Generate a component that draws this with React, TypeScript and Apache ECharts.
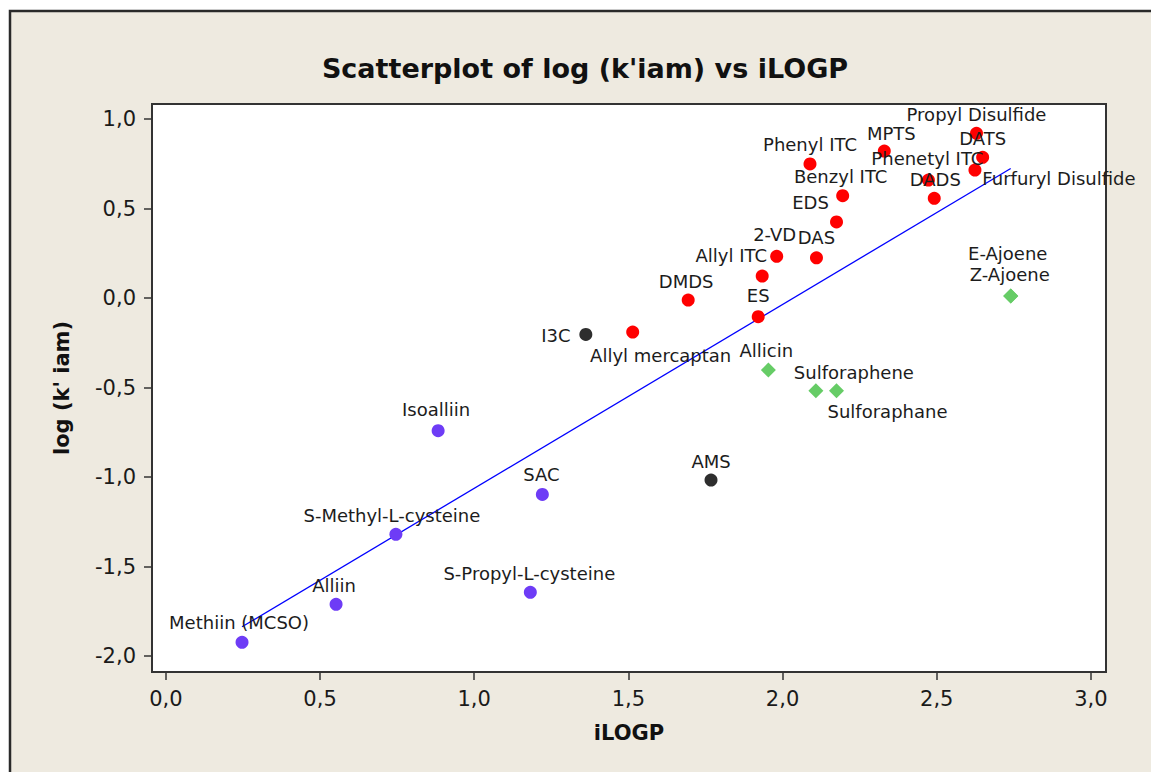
import React, { useEffect, useRef } from "react";
import * as echarts from "echarts";

// ---- data ----
const redNames = ["Propyl Disulfide", "DATS", "Phenetyl ITC", "DADS", "Furfuryl Disulfide", "MPTS", "Phenyl ITC", "Benzyl ITC", "EDS", "2-VD", "DAS", "Allyl ITC", "DMDS", "ES", "Allyl mercaptan"];
const redX = [2.629, 2.649, 2.473, 2.492, 2.624, 2.33, 2.089, 2.195, 2.175, 1.981, 2.11, 1.934, 1.694, 1.921, 1.514];
const redY = [0.92, 0.786, 0.659, 0.557, 0.715, 0.821, 0.749, 0.572, 0.425, 0.233, 0.225, 0.123, -0.011, -0.104, -0.19];

const blackNames = ["I3C", "AMS"];
const blackX = [1.362, 1.768];
const blackY = [-0.203, -1.017];

const greenNames = ["Allicin", "Sulforaphene", "Sulforaphane", "E-Ajoene", "Z-Ajoene"];
const greenX = [1.954, 2.108, 2.175, 2.74, 2.74];
const greenY = [-0.402, -0.518, -0.518, 0.011, 0.011];

const purpleNames = ["Methiin (MCSO)", "Alliin", "S-Methyl-L-cysteine", "Isoalliin", "SAC", "S-Propyl-L-cysteine"];
const purpleX = [0.247, 0.552, 0.746, 0.883, 1.221, 1.182];
const purpleY = [-1.923, -1.711, -1.32, -0.741, -1.097, -1.644];

// fitted regression line
const fitSlope = 1.027;
const fitIntercept = -2.09;

const xTicks = [0, 0.5, 1, 1.5, 2, 2.5, 3];
const yTicks = [-2, -1.5, -1, -0.5, 0, 0.5, 1];

// ---- label placement (layout only, pixels) ----
const redLabelOffsets = [[0, 0], [0, 0], [-1, -3], [1, 0], [84, 27], [7, 1], [0, -1], [-2, -1], [-26, -1], [-2, -3], [0, -2], [-31, -2], [-2, 0], [0, -3], [28, 42]];
const blackLabelOffsets = [[-30, 20], [0, 0]];
const greenLabelOffsets = [[-2, 0], [38, 1], [51, 40], [-3, -23], [-1, -2]];
const purpleLabelOffsets = [[-3, -1], [-2, 0], [-4, 0], [-2, -3], [-1, -1], [-1, 0]];

const FONT = "'DejaVu Sans', Verdana, sans-serif";
const fmt = (v: number) => v.toFixed(1).replace(".", ",");

function build(names: string[], xs: number[], ys: number[]) {
  return names.map((n, i) => ({ name: n, value: [xs[i], ys[i]] }));
}

function scatter(name: string, color: string, symbol: string, size: number, data: any[], offs: number[][]) {
  return {
    type: "scatter",
    name,
    symbol,
    symbolSize: size,
    itemStyle: { color, opacity: 1 },
    label: {
      show: true,
      position: "top",
      distance: 3,
      formatter: (p: any) => p.name,
      color: "#1c1c1c",
      fontFamily: FONT,
      fontSize: 18,
      lineHeight: 18,
    },
    labelLayout: (p: any) => {
      const o = offs[p.dataIndex] || [0, 0];
      return { dx: o[0], dy: o[1], hideOverlap: false };
    },
    emphasis: { disabled: true },
    data,
    z: 3,
  };
}

export default function App() {
  const ref = useRef<HTMLDivElement>(null);
  useEffect(() => {
    if (!ref.current) return;
    const chart = echarts.init(ref.current, null, { renderer: "svg" });
    const allX = [...redX, ...blackX, ...greenX, ...purpleX];
    const x0 = Math.min(...allX);
    const x1 = Math.max(...allX);
    const axisCommon = {
      type: "value",
      splitLine: { show: false },
      axisLine: { show: false, onZero: false },
      axisTick: {
        show: true,
        inside: false,
        length: 8,
        lineStyle: { color: "#333", width: 1.5 },
      },
      axisLabel: {
        formatter: (v: number) => fmt(v),
        color: "#1a1a1a",
        fontFamily: FONT,
        fontSize: 21,
        margin: 16,
      },
      nameTextStyle: { fontFamily: FONT, fontWeight: "bold", fontSize: 21, color: "#111" },
    };
    chart.setOption({
      animation: false,
      backgroundColor: "#ffffff",
      graphic: [
        {
          type: "rect",
          z: -10,
          shape: { x: 10, y: 11, width: 1170, height: 790 },
          style: { fill: "#EEEAE0", stroke: "#2a2a2a", lineWidth: 2.5 },
        },
        {
          type: "text",
          x: 585,
          y: 68,
          style: {
            text: "Scatterplot of log (k'iam) vs iLOGP",
            fill: "#111",
            font: "bold 27px 'DejaVu Sans', sans-serif",
            textAlign: "center",
            textVerticalAlign: "middle",
          },
        },
      ],
      grid: {
        left: 152,
        top: 104,
        right: 45,
        bottom: 100,
        show: true,
        backgroundColor: "#ffffff",
        borderColor: "#333",
        borderWidth: 2,
      },
      xAxis: {
        ...axisCommon,
        min: -0.045,
        max: 3.049,
        name: "iLOGP",
        nameLocation: "middle",
        nameGap: 50,
        axisTick: { ...axisCommon.axisTick, customValues: xTicks },
        axisLabel: { ...axisCommon.axisLabel, customValues: xTicks },
      },
      yAxis: {
        ...axisCommon,
        min: -2.089,
        max: 1.084,
        name: "log (k' iam)",
        nameLocation: "middle",
        nameGap: 80,
        axisTick: { ...axisCommon.axisTick, customValues: yTicks },
        axisLabel: { ...axisCommon.axisLabel, customValues: yTicks },
      },
      series: [
        {
          type: "line",
          name: "fit",
          data: [
            [x0, fitSlope * x0 + fitIntercept],
            [x1, fitSlope * x1 + fitIntercept],
          ],
          symbol: "none",
          lineStyle: { color: "#0000ff", width: 1.3 },
          emphasis: { disabled: true },
          z: 2,
        },
        scatter("red", "#FF0000", "circle", 13, build(redNames, redX, redY), redLabelOffsets),
        scatter("black", "#2E2E2E", "circle", 13, build(blackNames, blackX, blackY), blackLabelOffsets),
        scatter("green", "#66CC66", "diamond", 15, build(greenNames, greenX, greenY), greenLabelOffsets),
        scatter("purple", "#6E3CF6", "circle", 13, build(purpleNames, purpleX, purpleY), purpleLabelOffsets),
      ],
    });
    return () => chart.dispose();
  }, []);
  return (
    <div
      ref={ref}
      style={{ position: "absolute", left: 0, top: 0, width: 1151, height: 772 }}
    />
  );
}
